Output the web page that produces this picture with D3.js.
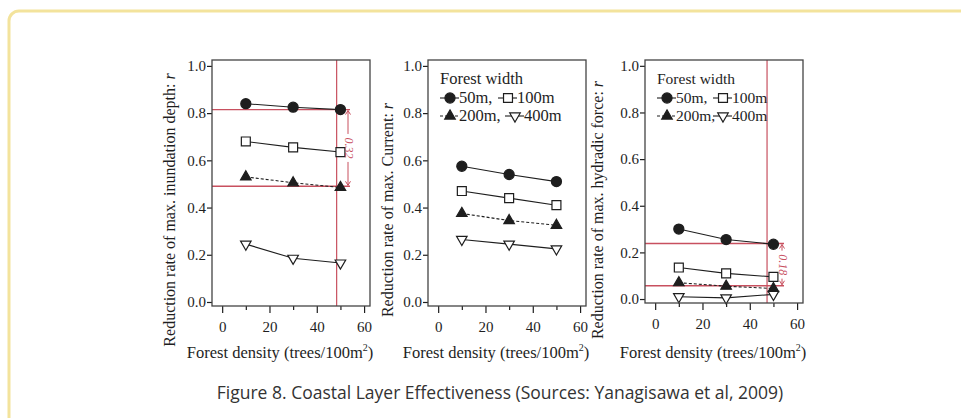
<!DOCTYPE html>
<html>
<head>
<meta charset="utf-8">
<script src="https://cdn.jsdelivr.net/npm/d3@7"></script>
<style>
  body { margin: 0; background: #fff; }
  svg { display: block; }
</style>
</head>
<body>
<svg></svg>
<script>
// forest density of the three runs (trees/100m2)
var densities = [10, 30, 50];
var widthNames = ["50m", "100m", "200m", "400m"];

// reduction rates, one row per forest width
var depthRates = [
	[0.84, 0.825, 0.815],
	[0.68, 0.655, 0.635],
	[0.53, 0.505, 0.485],
	[0.245, 0.185, 0.165]
];
var currentRates = [
	[0.575, 0.54, 0.51],
	[0.47, 0.44, 0.41],
	[0.375, 0.345, 0.325],
	[0.265, 0.245, 0.225]
];
var forceRates = [
	[0.30, 0.255, 0.235],
	[0.135, 0.11, 0.095],
	[0.07, 0.055, 0.045],
	[0.01, 0.005, 0.02]
];

var yTicks = [0, 0.2, 0.4, 0.6, 0.8, 1.0];
var xTicks = [0, 10, 20, 30, 40, 50, 60];

// red marks drawn over the first and last panel
var depthMarks = [0.815, 0.49];
var depthMarkX = 48.4;
var depthGap = "0.32";
var forceMarks = [0.238, 0.057];
var forceMarkX = 47.3;
var forceGap = "0.18";

var svgWidth = 961;
var svgHeight = 418;
var red = "#c8505f";
var ink = "#1e1e1e";
var serif = "'Liberation Serif', 'DejaVu Serif', serif";

var svg = d3.select("svg")
	.attr("width", svgWidth)
	.attr("height", svgHeight);

// yellow frame round the figure
svg.append("rect")
	.attr("x", 9)
	.attr("y", 11)
	.attr("width", 990)
	.attr("height", 430)
	.attr("rx", 10)
	.attr("fill", "none")
	.attr("stroke", "#f3e39c")
	.attr("stroke-width", 3);

var panels = [
	{ left: 212, right: 370, top: 60, bottom: 306, titleX: 170, values: depthRates,
	  title: "Reduction rate of max. inundation depth: ", legend: null,
	  marks: depthMarks, markX: depthMarkX, gap: depthGap, gapX: 348, lineEnd: 350 },
	{ left: 428, right: 586, top: 60, bottom: 306, titleX: 388, values: currentRates,
	  title: "Reduction rate of max. Current: ", legend: [58, 65], legendFont: 16.5 },
	{ left: 645, right: 803, top: 60, bottom: 303, titleX: 598, values: forceRates,
	  title: "Reduction rate of max. hydradic force: ", legend: [56, 56], legendFont: 15.5,
	  marks: forceMarks, markX: forceMarkX, gap: forceGap, gapX: 782, lineEnd: 784 }
];

var symbolTypes = [d3.symbolCircle, d3.symbolSquare, d3.symbolTriangle, d3.symbolTriangle];
var symbolSizes = [80, 80, 48, 48];
var symbolFill = [ink, "#fff", ink, "#fff"];
var symbolRotate = [0, 0, 0, 180];
var lineDash = [null, null, "3,2", null];

function drawSymbol(g, k, x, y) {
	g.append("path")
		.attr("d", d3.symbol().type(symbolTypes[k]).size(symbolSizes[k]))
		.attr("transform", "translate(" + x + "," + y + ") rotate(" + symbolRotate[k] + ")")
		.attr("fill", symbolFill[k])
		.attr("stroke", ink)
		.attr("stroke-width", 1.2);
}

panels.forEach(function(p) {
	var x = d3.scaleLinear().domain([-4.3, 62.5]).range([p.left, p.right]);
	var y = d3.scaleLinear().domain([-0.017, 1.025]).range([p.bottom, p.top]);
	var g = svg.append("g");

	// y axis
	var yAxis = g.append("g")
		.attr("transform", "translate(" + p.left + ",0)")
		.call(d3.axisLeft(y).tickValues(yTicks).tickSize(5).tickPadding(1).tickFormat(d3.format(".1f")));
	yAxis.select(".domain").remove();

	// x axis with short minor ticks
	var xAxis = g.append("g")
		.attr("transform", "translate(0," + p.bottom + ")")
		.call(d3.axisBottom(x).tickValues(xTicks).tickSize(7).tickPadding(8)
			.tickFormat(function(d) { return d % 20 === 0 ? d : ""; }));
	xAxis.select(".domain").remove();
	xAxis.selectAll(".tick line")
		.attr("y2", function(d) { return d % 20 === 0 ? 7 : 4; });

	g.selectAll(".tick line").attr("stroke", ink).attr("stroke-width", 1.2);
	g.selectAll(".tick text")
		.attr("font-family", serif)
		.attr("font-size", "15px")
		.attr("fill", ink);

	// red reference lines
	if (p.marks) {
		g.append("line")
			.attr("x1", x(p.markX)).attr("x2", x(p.markX))
			.attr("y1", p.top).attr("y2", p.bottom)
			.attr("stroke", red).attr("stroke-width", 1.2);
		g.selectAll(".mark")
			.data(p.marks)
			.enter()
			.append("line")
			.attr("x1", p.left).attr("x2", p.lineEnd)
			.attr("y1", function(d) { return y(d); })
			.attr("y2", function(d) { return y(d); })
			.attr("stroke", red).attr("stroke-width", 1.4);
	}

	// series lines and markers
	p.values.forEach(function(row, k) {
		var pts = row.map(function(v, i) { return [densities[i], v]; });
		g.append("path")
			.attr("d", d3.line().x(function(d) { return x(d[0]); }).y(function(d) { return y(d[1]); })(pts))
			.attr("fill", "none")
			.attr("stroke", ink)
			.attr("stroke-width", 1.1)
			.attr("stroke-dasharray", lineDash[k]);
		pts.forEach(function(d) { drawSymbol(g, k, x(d[0]), y(d[1])); });
	});

	// dimension arrow between the red lines
	if (p.marks) {
		var yTop = y(p.marks[0]), yBot = y(p.marks[1]), mid = (yTop + yBot) / 2;
		var half = Math.min(14, (yBot - yTop) / 2 - 4);
		g.append("line")
			.attr("x1", p.gapX).attr("x2", p.gapX)
			.attr("y1", yTop + 1).attr("y2", mid - half)
			.attr("stroke", red).attr("stroke-width", 1);
		g.append("line")
			.attr("x1", p.gapX).attr("x2", p.gapX)
			.attr("y1", mid + half).attr("y2", yBot - 1)
			.attr("stroke", red).attr("stroke-width", 1);
		g.append("path")
			.attr("d", "M" + (p.gapX - 2.5) + "," + (yTop + 5) + "L" + p.gapX + "," + (yTop + 1) + "L" + (p.gapX + 2.5) + "," + (yTop + 5))
			.attr("fill", "none").attr("stroke", red);
		g.append("path")
			.attr("d", "M" + (p.gapX - 2.5) + "," + (yBot - 5) + "L" + p.gapX + "," + (yBot - 1) + "L" + (p.gapX + 2.5) + "," + (yBot - 5))
			.attr("fill", "none").attr("stroke", red);
		g.append("text")
			.text(p.gap)
			.attr("text-anchor", "middle")
			.attr("transform", "translate(" + (p.gapX - 3.5) + "," + mid + ") rotate(90)")
			.attr("font-family", serif)
			.attr("font-style", "italic")
			.attr("font-size", "12px")
			.attr("fill", red);
	}

	// frame
	g.append("rect")
		.attr("x", p.left).attr("y", p.top)
		.attr("width", p.right - p.left).attr("height", p.bottom - p.top)
		.attr("fill", "none")
		.attr("stroke", "#444")
		.attr("stroke-width", 1.3);

	// axis titles
	var xt = g.append("text")
		.attr("x", (p.left + p.right) / 2 - 11)
		.attr("y", 358)
		.attr("text-anchor", "middle")
		.attr("font-family", serif)
		.attr("font-size", "16.5px")
		.attr("fill", ink)
		.text("Forest density (trees/100m");
	xt.append("tspan").attr("dy", -7).attr("font-size", "10px").text("2");
	xt.append("tspan").attr("dy", 7).text(")");

	var yt = g.append("text")
		.attr("text-anchor", "middle")
		.attr("transform", "translate(" + (p.titleX + 5) + ",210) rotate(-90)")
		.attr("font-family", serif)
		.attr("font-size", "16px")
		.attr("fill", ink)
		.text(p.title);
	yt.append("tspan").attr("font-style", "italic").text("r");

	// legend
	if (p.legend) {
		var lx = p.left + 12;
		g.append("text")
			.attr("x", lx).attr("y", 84)
			.attr("font-family", serif)
			.attr("font-size", p.legendFont + "px")
			.attr("fill", ink)
			.text("Forest width");
		var slots = [[lx, 98], [lx + p.legend[0], 98], [lx, 116], [lx + p.legend[1], 116]];
		widthNames.forEach(function(name, k) {
			var sx = slots[k][0], sy = slots[k][1];
			g.append("line")
				.attr("x1", sx).attr("x2", sx + 19)
				.attr("y1", sy).attr("y2", sy)
				.attr("stroke", ink).attr("stroke-width", 1.1)
				.attr("stroke-dasharray", lineDash[k]);
			drawSymbol(g, k, sx + 10, sy);
			g.append("text")
				.attr("x", sx + 19).attr("y", sy + 5)
				.attr("font-family", serif)
				.attr("font-size", p.legendFont + "px")
				.attr("fill", ink)
				.text(k % 2 === 0 ? name + "," : name);
		});
	}
});

// caption
svg.append("text")
	.attr("x", 500)
	.attr("y", 399)
	.attr("text-anchor", "middle")
	.attr("font-family", "'Open Sans', sans-serif")
	.attr("font-size", "17.5px")
	.attr("fill", "#333")
	.text("Figure 8. Coastal Layer Effectiveness (Sources: Yanagisawa et al, 2009)");
</script>
</body>
</html>
